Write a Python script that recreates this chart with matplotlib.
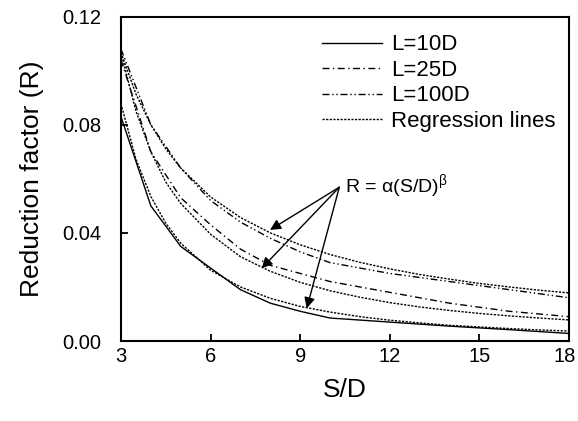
import numpy as np
import matplotlib
matplotlib.use("Agg")
import matplotlib.pyplot as plt
import matplotlib.transforms as mtransforms

plt.rcParams["font.family"] = ["Liberation Sans", "DejaVu Sans"]

sd = [3, 4, 5, 6, 7, 8, 9, 10, 12, 14, 16, 18]

# measured reduction factors
r_10d = [0.083, 0.050, 0.035, 0.027, 0.019, 0.014, 0.011, 0.0085, 0.0070, 0.0055, 0.0042, 0.0028]
r_25d = [0.104, 0.070, 0.053, 0.043, 0.034, 0.028, 0.025, 0.022, 0.018, 0.014, 0.011, 0.009]
r_100d = [0.108, 0.080, 0.064, 0.052, 0.044, 0.038, 0.033, 0.029, 0.025, 0.022, 0.019, 0.016]

# regression lines
sd_reg = [3, 3.5, 4, 4.5, 5, 6, 7, 8, 9, 10, 11, 12, 13, 14, 15, 16, 17, 18]
reg_10d = [0.0878, 0.0673, 0.0535, 0.0436, 0.0362, 0.0262, 0.0200, 0.0158, 0.0128, 0.0107, 0.0090, 0.0077, 0.0067, 0.0058, 0.0052, 0.0046, 0.0041, 0.0037]
reg_25d = [0.1067, 0.0851, 0.0700, 0.0588, 0.0509, 0.0395, 0.0312, 0.0258, 0.0217, 0.0186, 0.0162, 0.0142, 0.0126, 0.0113, 0.0102, 0.0093, 0.0085, 0.0078]
reg_100d = [0.1067, 0.0914, 0.0800, 0.0711, 0.0640, 0.0533, 0.0457, 0.0400, 0.0356, 0.0320, 0.0291, 0.0267, 0.0246, 0.0229, 0.0213, 0.0200, 0.0188, 0.0178]

fig = plt.figure(figsize=(5.78, 4.21), dpi=100)
ax = fig.add_axes([0.2093, 0.19, 0.7751, 0.7704])

lw = 1.0
ax.plot(sd, r_10d, color="black", lw=lw, label="L=10D")
ax.plot(sd, r_25d, color="black", lw=lw, dashes=(5, 2.5, 1, 2.5), label="L=25D")
ax.plot(sd, r_100d, color="black", lw=lw, dashes=(5, 2, 1, 2, 1, 2), label="L=100D")
ax.plot(sd_reg, reg_10d, color="black", lw=lw, dashes=(1.6, 1.0), label="Regression lines")
ax.plot(sd_reg, reg_25d, color="black", lw=lw, dashes=(1.6, 1.0))
ax.plot(sd_reg, reg_100d, color="black", lw=lw, dashes=(1.6, 1.0))

# annotation arrows to regression curves
src = (10.31, 0.0569)
for tip in [(7.99, 0.0411), (7.71, 0.0269), (9.22, 0.0121)]:
    ax.annotate("", xy=tip, xytext=src,
                arrowprops=dict(arrowstyle="-|>", color="black", lw=1.0,
                                mutation_scale=16, shrinkA=0, shrinkB=0))
ax.text(10.5, 0.0572, r"R = α(S/D)$^{\mathregular{β}}$", fontsize=14, va="center", ha="left")

ax.set_xlim(3, 18)
ax.set_ylim(0, 0.12)
ax.set_xticks([3, 6, 9, 12, 15, 18])
ax.set_yticks([0, 0.04, 0.08, 0.12])
ax.set_yticklabels(["0.00", "0.04", "0.08", "0.12"])
ax.tick_params(direction="in", length=5, width=1.3, labelsize=14.5)
ax.tick_params(axis="x", pad=4)
ax.tick_params(axis="y", pad=14)
for s in ax.spines.values():
    s.set_linewidth(1.5)

# nudge the last x label so it stays inside the picture
last = ax.get_xticklabels()[-1]
last.set_transform(last.get_transform() + mtransforms.ScaledTranslation(-3 / 72, 0, fig.dpi_scale_trans))

ax.set_xlabel("S/D", fontsize=19, labelpad=9)
ax.set_ylabel("Reduction factor (R)", fontsize=19, labelpad=13)

leg = ax.legend(loc="upper right", fontsize=16, frameon=False, handlelength=2.7,
                handletextpad=0.4, labelspacing=0.2, borderaxespad=0.4,
                bbox_to_anchor=(1.01, 1.0))

fig.savefig("out.png", dpi=100)
